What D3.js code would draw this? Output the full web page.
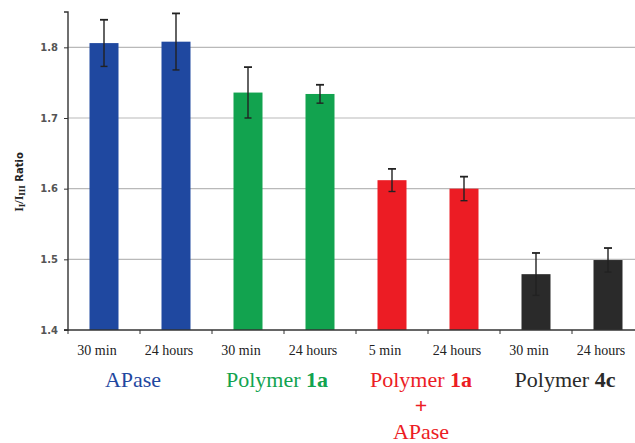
<!DOCTYPE html>
<html><head><meta charset="utf-8">
<script src="https://cdn.jsdelivr.net/npm/d3@7"></script>
</head><body style="margin:0">
<svg id="c" width="635" height="443"></svg>
<script>
const timeLabels = ["30 min","24 hours","30 min","24 hours","5 min","24 hours","30 min","24 hours"];
const values = [1.806, 1.808, 1.736, 1.734, 1.612, 1.600, 1.479, 1.499];
const errors = [0.033, 0.040, 0.036, 0.013, 0.016, 0.017, 0.030, 0.017];
const barGroups = [0,0,1,1,2,2,3,3];
const groupColors = ["#1f48a0","#12a34f","#ec1c24","#2a2a2a"];
const yTicks = [1.4,1.5,1.6,1.7,1.8];
const groupLabels = [
  {lines:[[["APase",false]]]},
  {lines:[[["Polymer ",false],["1a",true]]]},
  {lines:[[["Polymer ",false],["1a",true]],[["+",true]],[["APase",false]]]},
  {lines:[[["Polymer ",false],["4c",true]]]}
];

const SERIF = '"Liberation Serif"';
const SANS = '"DejaVu Sans"';
const svg = d3.select("#c");
const pLeft = 68, pRight = 644, pTop = 12, pBottom = 330;
const xb = d3.scaleBand().domain(d3.range(values.length)).range([pLeft, pRight]);
const y = d3.scaleLinear().domain([1.4, 1.85]).range([pBottom, pTop]);

// gridlines
svg.append("g").selectAll("line").data(yTicks.slice(1)).join("line")
  .attr("x1", pLeft).attr("x2", 635).attr("y1", d=>y(d)).attr("y2", d=>y(d))
  .attr("stroke", "#b9b9b9").attr("stroke-width", 1.2);

// bars
svg.append("g").selectAll("rect").data(values).join("rect")
  .attr("x", (d,i)=>xb(i) + xb.bandwidth()/2 - 14.5)
  .attr("width", 29)
  .attr("y", d=>y(d)).attr("height", d=>y(1.4)-y(d))
  .attr("fill", (d,i)=>groupColors[barGroups[i]]);

// error bars
const eg = svg.append("g").attr("stroke","#222").attr("stroke-width",1.4);
values.forEach((v,i)=>{
  const cx = xb(i) + xb.bandwidth()/2;
  eg.append("line").attr("x1",cx).attr("x2",cx).attr("y1",y(v+errors[i])).attr("y2",y(v-errors[i]));
  eg.append("line").attr("x1",cx-4).attr("x2",cx+4).attr("y1",y(v+errors[i])).attr("y2",y(v+errors[i])).attr("stroke-width",1.8);
  eg.append("line").attr("x1",cx-3.5).attr("x2",cx+3.5).attr("y1",y(v-errors[i])).attr("y2",y(v-errors[i]));
});

// y axis
const yAxis = d3.axisLeft(y).tickValues(yTicks).tickFormat(d3.format(".1f")).tickSize(4).tickPadding(6);
const ya = svg.append("g").attr("transform",`translate(${pLeft},0)`).call(yAxis);
ya.attr("font-family", null).attr("font-size", null);
ya.select(".domain").attr("d", `M-4,${pTop}H0V${pBottom}H-4`).attr("stroke","#333").attr("stroke-width",1.4);
ya.selectAll(".tick line").attr("stroke","#333");
ya.selectAll("text").attr("font-size",10).attr("font-weight","bold").attr("fill","#555")
  .style("font-family",SANS);

// x axis
const xa = svg.append("g").attr("transform",`translate(0,${pBottom})`);
xa.append("line").attr("x1",pLeft-4).attr("x2",635).attr("y1",0).attr("y2",0).attr("stroke","#333").attr("stroke-width",1.4);
xa.selectAll(".tk").data(d3.range(values.length+1)).join("line")
  .attr("x1", i=>pLeft + i*xb.bandwidth()).attr("x2", i=>pLeft + i*xb.bandwidth())
  .attr("y1",0).attr("y2",4).attr("stroke","#333");
xa.selectAll("text").data(timeLabels).join("text")
  .attr("x",(d,i)=>xb(i)+xb.bandwidth()/2 - 7).attr("y",25)
  .attr("text-anchor","middle")
  .attr("font-size",14)
  .attr("fill","#222")
  .style("font-family",SERIF)
  .text(d=>d);

// group labels
groupLabels.forEach((g,gi)=>{
  const cx = xb(gi*2) + xb.bandwidth() - 7;
  g.lines.forEach((line,li)=>{
    const t = svg.append("text").attr("x",cx).attr("y",387 + li*26)
      .attr("text-anchor","middle")
      .attr("font-size",22)
      .attr("fill",groupColors[gi])
      .style("font-family",SERIF);
    line.forEach(([s,b])=>t.append("tspan").attr("font-weight",b?"bold":"normal").text(s));
  });
});

// y title
const yt = svg.append("text").attr("transform","translate(23,182) rotate(-90)")
  .attr("text-anchor","middle")
  .attr("font-size",12).attr("font-weight","bold").attr("fill","#222")
  .style("font-family",SERIF);
yt.append("tspan").text("I");
yt.append("tspan").attr("font-size",9).attr("dy",2).text("I");
yt.append("tspan").attr("dy",-2).text("/I");
yt.append("tspan").attr("font-size",9).attr("dy",2).text("III");
yt.append("tspan").attr("dy",-2).attr("font-size",10).style("font-family",SANS).text(" Ratio");
</script>
</body></html>
